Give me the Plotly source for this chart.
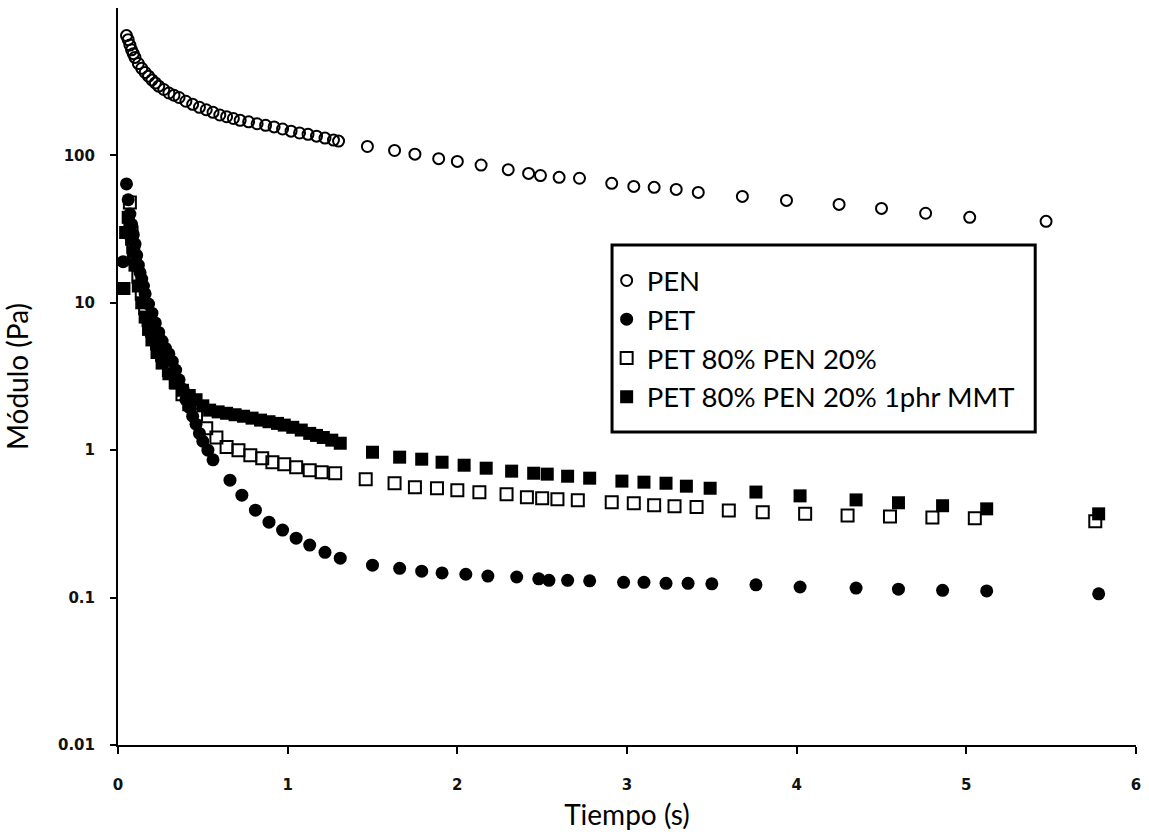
import plotly.graph_objects as go

# ---------------- data ----------------
pen_t = [0.05, 0.06, 0.07, 0.08, 0.09, 0.10, 0.12, 0.14, 0.16, 0.18, 0.20, 0.22, 0.24, 0.27,
         0.30, 0.33, 0.36, 0.40, 0.44, 0.48, 0.52, 0.56, 0.60, 0.64, 0.68, 0.72, 0.77, 0.82,
         0.87, 0.92, 0.97, 1.02, 1.07, 1.12, 1.17, 1.22, 1.27, 1.30,
         1.47, 1.63, 1.75, 1.89, 2.00, 2.14, 2.30, 2.42, 2.49, 2.60, 2.72, 2.91, 3.04, 3.16,
         3.29, 3.42, 3.68, 3.94, 4.25, 4.50, 4.76, 5.02, 5.47]
pen_v = [650, 610, 560, 520, 490, 462, 420, 390, 365, 345, 325, 310, 295, 280,
         265, 256, 247, 233, 222, 212, 204, 196, 188, 183, 178, 173, 169, 164,
         160, 156, 151, 146, 142, 139, 135, 131, 127, 125,
         115, 108, 102, 95, 91, 86, 80, 75.5, 73, 71, 70, 64.6, 61.6, 60.7,
         58.8, 56.1, 52.7, 49.5, 46.5, 43.7, 40.5, 38, 35.7]

pet_t = [0.03, 0.05, 0.06, 0.07, 0.08, 0.09, 0.10, 0.11, 0.12, 0.13, 0.14, 0.15, 0.16, 0.18,
         0.20, 0.22, 0.24, 0.26, 0.28, 0.30, 0.32, 0.34, 0.36, 0.38, 0.40, 0.42, 0.44, 0.46,
         0.48, 0.50, 0.53, 0.56, 0.66, 0.73, 0.81, 0.89, 0.97, 1.05, 1.13, 1.22, 1.31,
         1.50, 1.66, 1.79, 1.91, 2.05, 2.18, 2.35, 2.48, 2.54, 2.65, 2.78, 2.98, 3.10,
         3.23, 3.36, 3.50, 3.76, 4.02, 4.35, 4.60, 4.86, 5.12, 5.78]
pet_v = [19, 64, 50, 40, 34, 29, 25, 21, 18, 16, 14.5, 13, 11.5, 9.8,
         8.5, 7.3, 6.3, 5.5, 4.9, 4.5, 4.0, 3.5, 3.0, 2.6, 2.2, 1.95, 1.7, 1.5,
         1.3, 1.15, 1.0, 0.86, 0.626, 0.495, 0.392, 0.325, 0.287, 0.253, 0.227, 0.203, 0.185,
         0.166, 0.158, 0.151, 0.147, 0.144, 0.140, 0.138, 0.134, 0.131, 0.131, 0.130, 0.127, 0.127,
         0.125, 0.125, 0.124, 0.122, 0.118, 0.116, 0.114, 0.112, 0.111, 0.106]

blend_t = [0.07, 0.08, 0.09, 0.10, 0.12, 0.14, 0.16, 0.18, 0.20, 0.23, 0.26, 0.30, 0.34,
           0.38, 0.42, 0.46, 0.52, 0.58, 0.64, 0.71, 0.78, 0.85, 0.91, 0.98, 1.05, 1.13,
           1.20, 1.28, 1.46, 1.63, 1.75, 1.88, 2.00, 2.13, 2.29, 2.41, 2.50, 2.59, 2.71,
           2.91, 3.04, 3.16, 3.28, 3.41, 3.60, 3.80, 4.05, 4.30, 4.55, 4.80, 5.05, 5.76]
blend_v = [48, 30, 24, 20, 15, 11.5, 9.2, 7.6, 6.5, 5.3, 4.4, 3.5, 2.9,
           2.4, 2.05, 1.75, 1.41, 1.22, 1.05, 1.0, 0.925, 0.883, 0.829, 0.804, 0.767, 0.732,
           0.709, 0.698, 0.636, 0.597, 0.561, 0.552, 0.535, 0.519, 0.503, 0.480, 0.473, 0.465, 0.458,
           0.444, 0.437, 0.424, 0.417, 0.411, 0.39, 0.38, 0.37, 0.36, 0.355, 0.35, 0.345, 0.33]

mmt_t = [0.035, 0.045, 0.06, 0.07, 0.08, 0.09, 0.10, 0.12, 0.14, 0.16, 0.18, 0.20, 0.23,
         0.26, 0.30, 0.34, 0.38, 0.42, 0.46, 0.50, 0.54, 0.59, 0.64, 0.69, 0.74, 0.79,
         0.84, 0.89, 0.94, 0.98, 1.03, 1.08, 1.13, 1.17, 1.21, 1.26, 1.31,
         1.50, 1.66, 1.79, 1.91, 2.04, 2.17, 2.32, 2.45, 2.53, 2.65, 2.78, 2.97, 3.10,
         3.23, 3.35, 3.49, 3.76, 4.02, 4.35, 4.60, 4.86, 5.12, 5.78]
mmt_v = [12.5, 30, 38, 33, 27, 22, 18, 13, 10, 8, 6.6, 5.6, 4.6,
         3.9, 3.3, 2.85, 2.55, 2.35, 2.2, 2.0, 1.87, 1.82, 1.78, 1.74, 1.70, 1.65,
         1.60, 1.56, 1.52, 1.48, 1.43, 1.37, 1.30, 1.26, 1.22, 1.17, 1.115,
         0.969, 0.897, 0.869, 0.829, 0.791, 0.755, 0.721, 0.698, 0.688, 0.666, 0.646, 0.617, 0.607,
         0.597, 0.570, 0.552, 0.52, 0.49, 0.46, 0.44, 0.42, 0.40, 0.37]

y_tickvals = [0.01, 0.1, 1, 10, 100]
y_ticktext = ["0.01", "0.1", "1", "10", "100"]
x_tickvals = [0, 1, 2, 3, 4, 5, 6]

# ---------------- figure ----------------
fig = go.Figure()
fig.add_trace(go.Scatter(x=pen_t, y=pen_v, mode="markers", name="PEN",
                         marker=dict(symbol="circle-open", size=11, color="black",
                                     line=dict(width=2, color="black"))))
fig.add_trace(go.Scatter(x=pet_t, y=pet_v, mode="markers", name="PET",
                         marker=dict(symbol="circle", size=13, color="black")))
fig.add_trace(go.Scatter(x=blend_t, y=blend_v, mode="markers", name="PET 80% PEN 20%",
                         marker=dict(symbol="square-open", size=12, color="black",
                                     line=dict(width=2, color="black"))))
fig.add_trace(go.Scatter(x=mmt_t, y=mmt_v, mode="markers", name="PET 80% PEN 20% 1phr MMT",
                         marker=dict(symbol="square", size=13, color="black")))

tickfont = dict(family="DejaVu Sans", size=15, color="#111111", weight="bold")
title_font = dict(family="Lato", size=28, color="black")

fig.update_layout(
    width=1149, height=838,
    margin=dict(l=118, r=11, t=8, b=93),
    paper_bgcolor="white", plot_bgcolor="white",
    showlegend=True,
    legend=dict(x=0.480, y=0.6634, xanchor="left", yanchor="top",
                borderwidth=0, bgcolor="rgba(0,0,0,0)",
                font=dict(family="Lato", size=27.5, color="black"),
                itemsizing="trace"),
    shapes=[dict(type="rect", xref="paper", yref="paper",
                 x0=0.4853, x1=0.901, y0=0.4247, y1=0.6784,
                 line=dict(color="black", width=3), fillcolor="rgba(0,0,0,0)")],
    xaxis=dict(range=[0, 6], tickvals=x_tickvals, showline=True, linecolor="black",
               linewidth=2, ticks="outside", ticklen=7, tickwidth=1.5, tickcolor="black",
               showgrid=False, zeroline=False, tickfont=tickfont, ticklabelstandoff=18,
               title=dict(text="Tiempo (s)", font=title_font, standoff=12)),
    yaxis=dict(type="log", range=[-2, 3], tickvals=y_tickvals, ticktext=y_ticktext,
               showline=True, linecolor="black", linewidth=2, ticks="outside", ticklen=6,
               tickwidth=1.5, tickcolor="black", showgrid=False, zeroline=False,
               tickfont=tickfont, ticklabelstandoff=12,
               title=dict(text="Módulo (Pa)", font=title_font, standoff=22)),
)

fig.write_html("out.html")
